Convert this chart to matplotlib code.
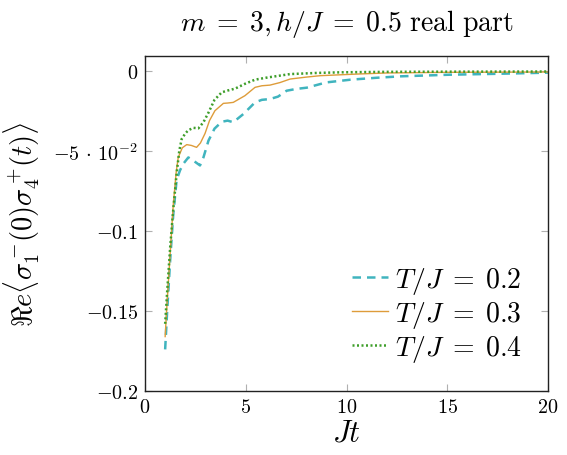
import matplotlib
matplotlib.use("Agg")
import matplotlib.pyplot as plt

plt.rcParams['mathtext.fontset'] = 'cm'
plt.rcParams['font.family'] = 'serif'
plt.rcParams['font.serif'] = ['cmr10', 'DejaVu Serif']
plt.rcParams['axes.formatter.use_mathtext'] = True

# Data
t_02 = [1.0, 1.1, 1.25, 1.4, 1.57, 1.74, 1.9, 2.15, 2.4, 2.73, 2.9, 3.15, 3.45, 3.81, 4.1, 4.38, 4.88, 5.46, 5.8, 6.2, 6.6, 7.03, 7.5, 8.03, 9.0, 10.2, 11.5, 12.7, 15.1, 17.6, 20.0]
y_02 = [-0.174, -0.150, -0.118, -0.090, -0.068, -0.062, -0.058, -0.054, -0.056, -0.059, -0.054, -0.0435, -0.036, -0.0317, -0.031, -0.032, -0.0269, -0.0196, -0.018, -0.0175, -0.016, -0.0123, -0.0112, -0.0104, -0.0071, -0.0054, -0.0042, -0.0033, -0.0023, -0.0017, -0.0010]

t_03 = [1.0, 1.1, 1.25, 1.4, 1.55, 1.65, 1.85, 2.07, 2.3, 2.56, 2.75, 2.98, 3.2, 3.47, 3.89, 4.1, 4.38, 4.96, 5.46, 5.8, 6.2, 6.7, 7.2, 8.0, 8.7, 10.5, 12.0, 15.0, 20.0]
y_03 = [-0.166, -0.144, -0.114, -0.084, -0.063, -0.054, -0.048, -0.046, -0.0465, -0.0477, -0.045, -0.039, -0.031, -0.0248, -0.0202, -0.020, -0.0196, -0.0154, -0.0102, -0.0092, -0.0088, -0.0072, -0.005, -0.0038, -0.0029, -0.0019, -0.0012, -0.0008, -0.0006]

t_04 = [1.0, 1.1, 1.25, 1.4, 1.57, 1.7, 1.82, 2.0, 2.15, 2.4, 2.65, 2.9, 3.15, 3.45, 3.81, 4.1, 4.47, 4.96, 5.46, 6.0, 6.36, 7.2, 8.5, 9.7, 12.0, 15.0, 20.0]
y_04 = [-0.158, -0.138, -0.110, -0.087, -0.064, -0.050, -0.0425, -0.039, -0.037, -0.0355, -0.0358, -0.032, -0.026, -0.018, -0.0133, -0.0122, -0.011, -0.008, -0.0054, -0.0042, -0.0035, -0.0019, -0.0012, -0.0008, -0.0005, -0.0004, -0.0003]

labels = [r'$T/J\;=\;0.2$', r'$T/J\;=\;0.3$', r'$T/J\;=\;0.4$']
yticks = [0, -0.05, -0.1, -0.15, -0.2]
ytick_labels = [r'$0$', r'$-5\,\cdot\,10^{-2}$', r'$-0.1$', r'$-0.15$', r'$-0.2$']
xticks = [0, 5, 10, 15, 20]

fig = plt.figure(figsize=(5.67, 4.56), dpi=100)
ax = fig.add_axes([145/567, 1 - 392/456, (548-145)/567, (392-57)/456])

ax.plot(t_02, y_02, color='#40B4BE', lw=1.8, ls=(0, (3.4, 2.4)), label=labels[0])
ax.plot(t_03, y_03, color='#DE9C3A', lw=1.0, ls='-', label=labels[1])
ax.plot(t_04, y_04, color='#3E9E2A', lw=1.8, ls=(0, (0.8, 1.0)), label=labels[2])

ax.set_xlim(0, 20)
ax.set_ylim(-0.2, 0.0094)
ax.set_xticks(xticks)
ax.set_xticklabels([rf'${v}$' for v in xticks], fontsize=14.5)
ax.set_yticks(yticks)
ax.set_yticklabels(ytick_labels, fontsize=14.5)
ax.tick_params(direction='in', top=True, right=True, length=5, width=0.8, color='#b0b0b0', pad=5)
for s in ax.spines.values():
    s.set_linewidth(1.0)
    s.set_color('#222222')

ax.set_xlabel(r'$Jt$', fontsize=22, labelpad=2)
ax.set_ylabel(r'$\Re e\langle\sigma_1^-\!(0)\sigma_4^+\!(t)\rangle$', fontsize=20.5, labelpad=8)
ax.set_title(r'$m\;=\;3,h/J\;=\;0.5\ \mathrm{real\ part}$', fontsize=20, pad=19)

leg = ax.legend(loc='lower right', fontsize=20, frameon=False, handlelength=1.3,
                handletextpad=0.25, labelspacing=0.12, borderaxespad=0.3,
                bbox_to_anchor=(0.985, 0.022))

fig.savefig('out.png', dpi=100)
